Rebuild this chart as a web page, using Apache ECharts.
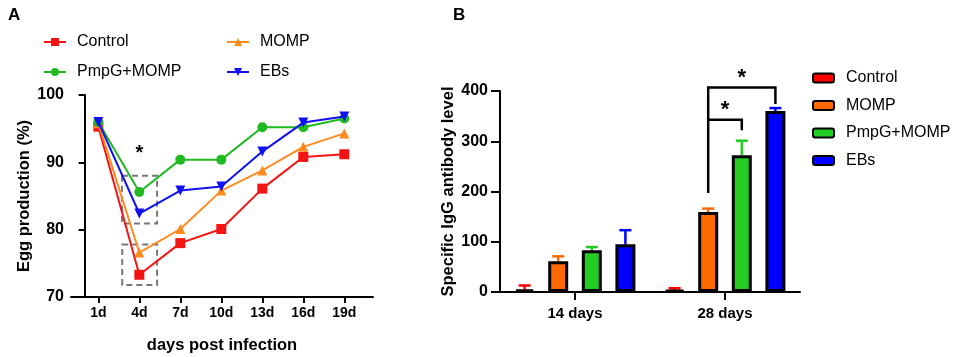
<!DOCTYPE html>
<html>
<head>
<meta charset="utf-8">
<script src="https://cdn.jsdelivr.net/npm/echarts@6/dist/echarts.min.js"></script>
<style>
  html, body { margin: 0; padding: 0; background: #fff; }
  #chart { width: 957px; height: 357px; }
</style>
</head>
<body>
<div id="chart"></div>
<script>
// panel A: egg production
const days = [1, 4, 7, 10, 13, 16, 19]
const control = [95.3, 73.3, 78.0, 80.1, 86.1, 90.8, 91.2]
const momp = [95.8, 76.6, 80.1, 85.8, 88.8, 92.3, 94.3]
const pmpgMomp = [96.0, 85.6, 90.4, 90.4, 95.2, 95.2, 96.5]
const ebs = [96.0, 82.4, 85.8, 86.4, 91.6, 95.9, 96.8]

// panel B: IgG, mean and upper error
const igCats = ['14 days', '28 days']
const igControl = [5.4, 4]
const igControlErr = [13, 7.5]
const igMomp = [61, 159]
const igMompErr = [71, 166]
const igPmpg = [83, 272]
const igPmpgErr = [89.5, 301]
const igEbs = [95, 360]
const igEbsErr = [123, 366]

const groups = ['Control', 'MOMP', 'PmpG+MOMP', 'EBs']
const lineColors = ['#f41414', '#ff8a1e', '#1fba1f', '#1010f0']
const barColors = ['#ff0000', '#ff6a00', '#22cc22', '#0000ff']
const font = 'Arial, "Liberation Sans", sans-serif'

const barWidth = 20
const barGap = 0.68
const pitch = barWidth * (1 + barGap)

const xy = d => days.map((x, i) => [x, d[i]])

function lineSeries(name, data, idx, symbol, extra) {
  return Object.assign({
    name,
    type: 'line',
    xAxisIndex: 0,
    yAxisIndex: 0,
    data: xy(data),
    symbol,
    symbolSize: 10,
    lineStyle: { width: 2, color: lineColors[idx] },
    itemStyle: { color: lineColors[idx] },
    z: 3 + idx
  }, extra || {})
}

function barSeries(idx, data) {
  return {
    name: 'B:' + groups[idx],
    type: 'bar',
    xAxisIndex: 1,
    yAxisIndex: 1,
    data,
    barWidth,
    barGap: (barGap * 100) + '%',
    itemStyle: { color: barColors[idx], borderColor: '#000', borderWidth: 3 }
  }
}

const errData = []
;[[igControl, igControlErr], [igMomp, igMompErr], [igPmpg, igPmpgErr], [igEbs, igEbsErr]].forEach((p, s) => {
  p[0].forEach((v, c) => errData.push([c, s, v, p[1][c]]))
})

// brackets: category, from bar, to bar, start, top, end
const brackets = [
  [1, 1, 2, 197, 343, 322],
  [1, 1, 3, 343, 407, 374]
]

function renderErr(params, api) {
  const c = api.value(0), s = api.value(1)
  const base = api.coord([c, api.value(2)])
  const tip = api.coord([c, api.value(3)])
  const x = base[0] + (s - 1.5) * pitch
  const st = { stroke: barColors[s], lineWidth: 2.5 }
  return {
    type: 'group',
    children: [
      { type: 'line', shape: { x1: x, y1: base[1], x2: x, y2: tip[1] }, style: st },
      { type: 'line', shape: { x1: x - 6, y1: tip[1], x2: x + 6, y2: tip[1] }, style: st }
    ]
  }
}

function renderBracket(params, api) {
  const c = api.value(0)
  const x1 = api.coord([c, 0])[0] + (api.value(1) - 1.5) * pitch
  const x2 = api.coord([c, 0])[0] + (api.value(2) - 1.5) * pitch
  const y0 = api.coord([c, api.value(3)])[1]
  const yt = api.coord([c, api.value(4)])[1]
  const y2 = api.coord([c, api.value(5)])[1]
  return {
    type: 'group',
    children: [
      { type: 'polyline', shape: { points: [[x1, y0], [x1, yt], [x2, yt], [x2, y2]] }, style: { stroke: '#000', lineWidth: 2.5, fill: null } },
      { type: 'text', x: (x1 + x2) / 2, y: yt - 10, style: { text: '*', font: 'bold 22px ' + font, fill: '#000', align: 'center', verticalAlign: 'middle' } }
    ]
  }
}

const axisText = { color: '#000', fontFamily: font, fontWeight: 'bold', fontSize: 16 }
const axisLine = { show: true, lineStyle: { color: '#000', width: 2 } }
const nameText = { color: '#000', fontFamily: font, fontWeight: 'bold', fontSize: 16.5 }
const legendText = { fontSize: 16, color: '#000', fontFamily: font, padding: [0, 0, 0, 6] }

const option = {
  animation: false,
  backgroundColor: '#fff',
  textStyle: { fontFamily: font },
  title: [
    { text: 'A', left: 3, top: 2, textStyle: { fontSize: 17, fontWeight: 'bold', color: '#000', fontFamily: font } },
    { text: 'B', left: 448, top: 2, textStyle: { fontSize: 17, fontWeight: 'bold', color: '#000', fontFamily: font } }
  ],
  legend: [
    {
      data: ['Control', 'PmpG+MOMP'], orient: 'vertical', left: 43, top: 34, padding: 0,
      itemWidth: 22, itemHeight: 10, itemGap: 14,
      textStyle: legendText
    },
    {
      data: ['MOMP', 'EBs'], orient: 'vertical', left: 226, top: 34, padding: 0,
      itemWidth: 22, itemHeight: 10, itemGap: 14,
      textStyle: legendText
    },
    {
      data: groups.map(g => 'B:' + g), orient: 'vertical', left: 812, top: 70, padding: 0,
      itemWidth: 21, itemHeight: 9, itemGap: 11.5,
      formatter: n => n.replace(/^B:/, ''),
      textStyle: Object.assign({}, legendText, { padding: [0, 0, 0, 7] })
    }
  ],
  grid: [
    { left: 71, top: 95, width: 302, height: 202, outerBoundsMode: 'none' },
    { left: 500, top: 91, width: 300, height: 201, outerBoundsMode: 'none' }
  ],
  xAxis: [
    {
      type: 'value', gridIndex: 0, min: -1, max: 21.1,
      name: 'days post infection', nameLocation: 'middle', nameGap: 40,
      nameTextStyle: nameText,
      axisLine: axisLine,
      axisTick: { show: true, length: 6, lineStyle: { width: 2, color: '#000' }, customValues: days },
      axisLabel: Object.assign({}, axisText, { customValues: days, formatter: v => v + 'd', margin: 9, fontSize: 14 }),
      splitLine: { show: false }
    },
    {
      type: 'category', gridIndex: 1, data: igCats,
      axisLine: axisLine,
      axisTick: { show: true, alignWithLabel: true, length: 8, lineStyle: { width: 2, color: '#000' } },
      axisLabel: Object.assign({}, axisText, { margin: 14, fontSize: 15 })
    }
  ],
  yAxis: [
    {
      type: 'value', gridIndex: 0, min: 70, max: 100, interval: 10,
      name: 'Egg production (%)', nameLocation: 'middle', nameGap: 38,
      nameTextStyle: nameText,
      axisLine: axisLine,
      axisTick: { show: true, length: 6, lineStyle: { width: 2, color: '#000' } },
      axisLabel: Object.assign({}, axisText, { margin: 7 }),
      splitLine: { show: false }
    },
    {
      type: 'value', gridIndex: 1, min: 0, max: 400, interval: 100,
      name: 'Specific IgG antibody level', nameLocation: 'middle', nameGap: 40,
      nameTextStyle: nameText,
      axisLine: axisLine,
      axisTick: { show: true, length: 9, lineStyle: { width: 2, color: '#000' } },
      axisLabel: Object.assign({}, axisText, { margin: 12 }),
      splitLine: { show: false }
    }
  ],
  series: [
    lineSeries('Control', control, 0, 'rect', {
      markArea: {
        silent: true,
        itemStyle: { color: 'rgba(0,0,0,0)', borderColor: '#777', borderWidth: 2, borderType: [6, 4] },
        data: [
          [{ coord: [2.73, 88.0] }, { coord: [5.3, 80.9] }],
          [{ coord: [2.75, 77.8] }, { coord: [5.3, 71.8] }]
        ]
      },
      markPoint: {
        silent: true,
        symbol: 'circle', symbolSize: 0,
        label: { show: true, formatter: '*', fontSize: 20, fontWeight: 'bold', color: '#000', position: 'inside' },
        data: [{ coord: [4, 91.3] }]
      }
    }),
    lineSeries('MOMP', momp, 1, 'triangle'),
    lineSeries('PmpG+MOMP', pmpgMomp, 2, 'circle'),
    lineSeries('EBs', ebs, 3, 'path://M0,0 L10,0 L5,9 Z'),
    barSeries(0, igControl),
    barSeries(1, igMomp),
    barSeries(2, igPmpg),
    barSeries(3, igEbs),
    {
      type: 'custom', xAxisIndex: 1, yAxisIndex: 1,
      renderItem: renderErr, data: errData, z: 1, silent: true
    },
    {
      type: 'custom', xAxisIndex: 1, yAxisIndex: 1,
      renderItem: renderBracket, data: brackets, z: 5, silent: true, clip: false
    }
  ]
}

const chart = echarts.init(document.getElementById('chart'))
chart.setOption(option)
</script>
</body>
</html>
